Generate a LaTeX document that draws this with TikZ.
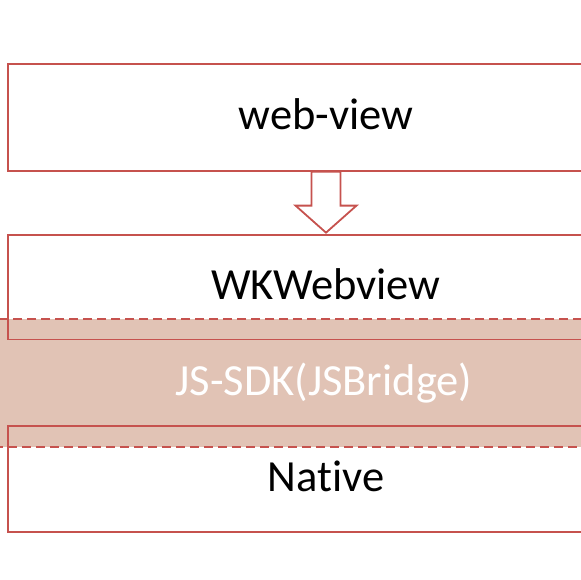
\documentclass[tikz,border=0pt]{standalone}
\usepackage{fontspec}
\setmainfont{Carlito}[Ligatures={NoCommon}]
\usetikzlibrary{calc}
\definecolor{boxred}{RGB}{198,82,78}
\definecolor{bandfill}{RGB}{225,195,181}
\tikzset{
  box/.style={draw=boxred, line width=1.8pt, rectangle, inner sep=0pt},
  band/.style={draw=boxred, line width=1.8pt, dash pattern=on 9pt off 5pt, fill=bandfill, rectangle, inner sep=0pt},
  lbl/.style={font=\fontsize{44.5}{52}\selectfont, anchor=base, inner sep=0pt},
  arr/.style={draw=boxred, line width=1.8pt, fill=white, line join=miter}
}
\begin{document}
\begin{tikzpicture}[x=1pt,y=-1pt]
\useasboundingbox (0,0) rectangle (580,580);
% band behind
\node[band, minimum width=720pt, minimum height=128pt] (band) at (326,383) {};
% boxes
\node[box, minimum width=636pt, minimum height=107pt] (web) at (326,117.2) {};
\node[box, minimum width=636pt, minimum height=104.5pt] (wk) at (326,287.3) {};
\node[box, minimum width=636pt, minimum height=106pt] (nat) at (326,479) {};
% block arrow from web to wk
\draw[arr] ($(web.south)+(-14.5,0)$) -- ($(web.south)+(14.5,0)$) -- ($(web.south)+(14.5,34)$)
  -- ($(web.south)+(30.5,34)$) -- ($(wk.north)+(0,-1.5)$) -- ($(web.south)+(-30.5,34)$)
  -- ($(web.south)+(-14.5,34)$) -- cycle;
% labels
\node[lbl] (tweb) at (326,130) {web-view};
\node[lbl] (twk) at (326,299.5) {WKWebview};
\node[lbl, text=white] (tband) at (324,395) {JS-SDK(JSBridge)};
\node[lbl] (tnat) at (326,491.5) {Native};
\end{tikzpicture}
\end{document}
